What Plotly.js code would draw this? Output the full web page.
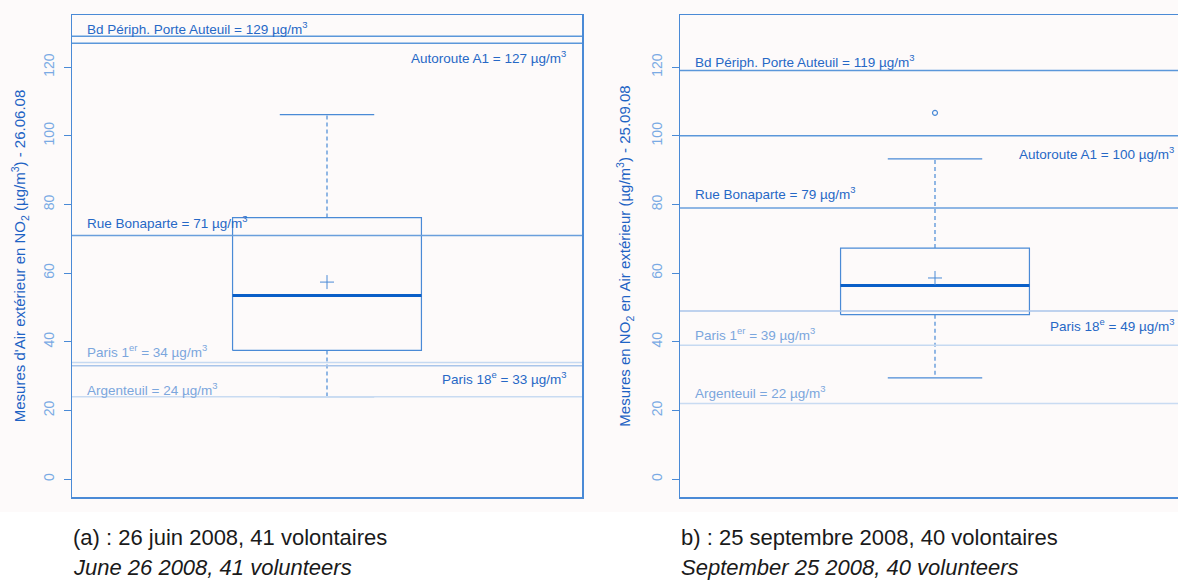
<!DOCTYPE html>
<html>
<head>
<meta charset="utf-8">
<script src="https://cdn.plot.ly/plotly-3.0.1.min.js"></script>
<style>
html,body{margin:0;padding:0;background:#ffffff;overflow:hidden;width:1178px;height:581px;}
#chart{width:1200px;height:581px;}
</style>
</head>
<body>
<div id="chart"></div>
<script>
// ---- Data ----
const panelCaptions = ['(a) : 26 juin 2008, 41 volontaires', 'b) : 25 septembre 2008, 40 volontaires'];
const panelCaptionsEn = ['June 26 2008, 41 volunteers', 'September 25 2008, 40 volunteers'];
const yTitles = ["Mesures d'Air extérieur en NO<sub>2</sub> (µg/m<sup>3</sup>) - 26.06.08",
                 "Mesures en NO<sub>2</sub> en Air extérieur (µg/m<sup>3</sup>) - 25.09.08"];
const q1 = [37.5, 47.9];
const medians = [53.5, 56.4];
const q3 = [76.2, 67.3];
const whiskerLow = [24.0, 29.5];
const whiskerHigh = [106.2, 93.3];
const means = [57.4, 58.6];
const outliers = [[], [106.7]];
const stationNames = ['Bd Périph. Porte Auteuil', 'Autoroute A1', 'Rue Bonaparte', 'Paris 1<sup>er</sup>', 'Paris 18<sup>e</sup>', 'Argenteuil'];
const stationJune = [129, 127, 71, 34, 33, 24];
const stationSept = [119, 100, 79, 39, 49, 22];
const yTicks = [0, 20, 40, 60, 80, 100, 120];

// ---- Styles / placement (not data) ----
const stationValues = [stationJune, stationSept];
const labelSide = [['left','right','left','left','right','left'], ['left','right','left','left','right','left']];
const labelShift = [[8,-14,13,11,-12,8], [10,-17,15,11,-14,12]];
const strongCol = '#2668c6', weakCol = '#7ba6dd';
const stationTextCol = [strongCol, strongCol, strongCol, weakCol, strongCol, weakCol];
const stationLineCol = ['#5b97da', '#5b97da', '#6a9fdc', '#c6d9f1', '#aac5ea', '#c9dbf2'];
const axCol = '#4a8ad6';
const boxCol = '#4a8ad6';
const medCol = '#0a5fc8';
const FONT = 'Liberation Sans, Arial, Helvetica, sans-serif';

const W = 1200;
const domains = [[72/W, 582/W], [680/W, 1190/W]];
const titleStandoff = [11, 14];
const boxHalf = 0.2, capHalf = 0.1, xc = 1;

const traces = [];
const shapes = [];
const annotations = [];

shapes.push({type:'rect', xref:'paper', yref:'paper', x0:0, x1:1, y0:-(512-497)/482, y1:(497)/482,
  fillcolor:'#fdfafa', line:{width:0}, layer:'below'});

for (let p = 0; p < 2; p++) {
  const xa = p === 0 ? 'x' : 'x2';
  const ya = p === 0 ? 'y' : 'y2';
  const xd = p === 0 ? 'x domain' : 'x2 domain';
  // box
  traces.push({type:'scatter', mode:'lines', xaxis:xa, yaxis:ya, hoverinfo:'skip', showlegend:false,
    x:[xc-boxHalf, xc+boxHalf, xc+boxHalf, xc-boxHalf, xc-boxHalf],
    y:[q1[p], q1[p], q3[p], q3[p], q1[p]], line:{color:boxCol, width:1.2}});
  // whiskers (dashed)
  traces.push({type:'scatter', mode:'lines', xaxis:xa, yaxis:ya, hoverinfo:'skip', showlegend:false,
    x:[xc, xc, null, xc, xc], y:[q3[p], whiskerHigh[p], null, q1[p], whiskerLow[p]],
    line:{color:boxCol, width:1.2, dash:'4px,3px'}});
  // caps
  traces.push({type:'scatter', mode:'lines', xaxis:xa, yaxis:ya, hoverinfo:'skip', showlegend:false,
    x:[xc-capHalf, xc+capHalf, null, xc-capHalf, xc+capHalf],
    y:[whiskerHigh[p], whiskerHigh[p], null, whiskerLow[p], whiskerLow[p]],
    line:{color:boxCol, width:1.2}});
  // median
  traces.push({type:'scatter', mode:'lines', xaxis:xa, yaxis:ya, hoverinfo:'skip', showlegend:false,
    x:[xc-boxHalf, xc+boxHalf], y:[medians[p], medians[p]], line:{color:medCol, width:3}});
  // mean
  traces.push({type:'scatter', mode:'markers', xaxis:xa, yaxis:ya, hoverinfo:'skip', showlegend:false,
    x:[xc], y:[means[p]], marker:{symbol:'cross-thin', size:10, line:{color:boxCol, width:1}}});
  // outliers
  if (outliers[p].length) {
    traces.push({type:'scatter', mode:'markers', xaxis:xa, yaxis:ya, hoverinfo:'skip', showlegend:false,
      x:outliers[p].map(() => xc), y:outliers[p],
      marker:{symbol:'circle-open', size:5, line:{color:boxCol, width:1.2}, color:boxCol}});
  }
  // station reference lines + labels
  stationNames.forEach((nm, i) => {
    const v = stationValues[p][i];
    shapes.push({type:'line', xref:xd, yref:ya, x0:0, x1:1, y0:v, y1:v,
      line:{color:stationLineCol[i], width:1.5}, layer:'above'});
    const left = labelSide[p][i] === 'left';
    annotations.push({xref:xd, yref:ya, x: left ? 0 : 1, y:v, xanchor: left ? 'left':'right',
      yanchor:'middle', xshift: left ? 13 : -14, yshift: labelShift[p][i], showarrow:false,
      text: nm + ' = ' + v + ' µg/m<sup>3</sup>', font:{family:FONT, size:13.5, color:stationTextCol[i]}});
  });
  // captions
  annotations.push({xref:xd, yref:'paper', x:0, y:-(537-497)/482, xanchor:'left', yanchor:'middle',
    xshift:-1, showarrow:false, text:panelCaptions[p], font:{family:FONT, size:22, color:'#1a1a1a'}});
  annotations.push({xref:xd, yref:'paper', x:0, y:-(567-497)/482, xanchor:'left', yanchor:'middle',
    xshift:-1, showarrow:false, text:'<i>' + panelCaptionsEn[p] + '</i>', font:{family:FONT, size:22, color:'#1a1a1a'}});
}

function xAxis(dom, anchor) {
  return {domain:dom, anchor:anchor, range:[0.46, 1.54], showticklabels:false, ticks:'', showgrid:false,
    zeroline:false, showline:true, mirror:true, linecolor:axCol, linewidth:1.5, fixedrange:true};
}
function yAxis(anchor, title, standoff) {
  return {anchor:anchor, range:[-5.2, 135.2], tickvals:yTicks, ticks:'outside', ticklen:7, tickcolor:axCol,
    tickwidth:1.3, tickangle:-90, ticklabelstandoff:4, tickfont:{family:FONT, size:14, color:'#7aaae4'},
    showgrid:false, zeroline:false, showline:true, mirror:true, linecolor:axCol, linewidth:1.5,
    title:{text:title, standoff:standoff, font:{family:FONT, size:15, color:'#1e63c4'}}, fixedrange:true};
}

const layout = {
  width:W, height:581,
  margin:{l:0, r:0, t:15, b:84},
  paper_bgcolor:'#ffffff', plot_bgcolor:'#fefcfc',
  showlegend:false,
  xaxis:xAxis(domains[0], 'y'),
  xaxis2:xAxis(domains[1], 'y2'),
  yaxis:yAxis('x', yTitles[0], titleStandoff[0]),
  yaxis2:yAxis('x2', yTitles[1], titleStandoff[1]),
  shapes:shapes,
  annotations:annotations,
  font:{family:FONT}
};

Plotly.newPlot('chart', traces, layout, {displayModeBar:false, staticPlot:true});
</script>
</body>
</html>
